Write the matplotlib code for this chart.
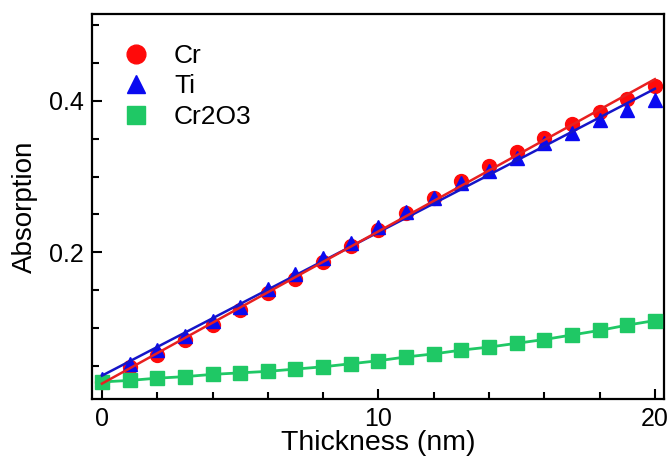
import matplotlib

matplotlib.use("Agg")
import matplotlib.pyplot as plt
import numpy as np
from matplotlib.ticker import MultipleLocator

plt.rcParams["font.family"] = ["Liberation Sans", "DejaVu Sans"]

# Data
thickness = np.arange(0, 21)
absorption_cr = [0.0286, 0.0485, 0.064, 0.084, 0.104, 0.124, 0.146, 0.165, 0.187, 0.208,
                 0.230, 0.2515, 0.2715, 0.2935, 0.3135, 0.3325, 0.351, 0.370, 0.3855,
                 0.403, 0.4195]
absorption_ti = [0.033, 0.053, 0.0705, 0.089, 0.110, 0.128, 0.151, 0.172, 0.192, 0.2127,
                 0.233, 0.2538, 0.2715, 0.291, 0.308, 0.325, 0.344, 0.357, 0.3745,
                 0.3877, 0.401]
absorption_cr2o3 = [0.029, 0.031, 0.034, 0.036, 0.039, 0.041, 0.043, 0.046, 0.049, 0.053,
                    0.057, 0.062, 0.066, 0.071, 0.075, 0.080, 0.085, 0.091, 0.097,
                    0.104, 0.110]

COLORS = {"Cr": "#ff0a0a", "Ti": "#0a0af0", "Cr2O3": "#1fc865"}

fig = plt.figure(figsize=(6.71, 4.65), dpi=100)
ax = fig.add_axes([92 / 671, 1 - 399 / 465, 572 / 671, 385 / 465])

# Straight fit lines for the metal films
fit_x = np.array([0, 20])
slope_ti, icpt_ti = np.polyfit(thickness, absorption_ti, 1)
slope_cr, icpt_cr = np.polyfit(thickness, absorption_cr, 1)

ax.plot(thickness, absorption_cr, "o", color=COLORS["Cr"], markersize=10, label="Cr", zorder=2)
ax.plot(thickness, absorption_ti, "^", color=COLORS["Ti"], markersize=10, label="Ti", zorder=3)
ax.plot(thickness, absorption_cr2o3, "s", color=COLORS["Cr2O3"], markersize=10,
        label="Cr2O3", zorder=3)
ax.plot(thickness, absorption_cr2o3, "-", color=COLORS["Cr2O3"], linewidth=2, zorder=2)
ax.plot(fit_x, slope_ti * fit_x + icpt_ti, "-", color="#1515c8", linewidth=1.8, zorder=4)
ax.plot(fit_x, slope_cr * fit_x + icpt_cr, "-", color="#e82020", linewidth=1.8, zorder=4)

ax.set_xlim(-0.36, 20.33)
ax.set_ylim(0.0065, 0.5145)
ax.xaxis.set_major_locator(MultipleLocator(10))
ax.xaxis.set_minor_locator(MultipleLocator(2))
ax.yaxis.set_minor_locator(MultipleLocator(0.05))
ax.set_yticks([0.2, 0.4])
ax.set_yticklabels(["0.2", "0.4"])

ax.tick_params(which="both", direction="in", width=1.5, labelsize=18, pad=6)
ax.tick_params(which="major", length=7)
ax.tick_params(which="minor", length=5)
for spine in ax.spines.values():
    spine.set_linewidth(1.6)

ax.set_xlabel("Thickness (nm)", fontsize=20.5, labelpad=-1)
ax.set_ylabel("Absorption", fontsize=20, labelpad=8)

ax.legend(loc="upper left", bbox_to_anchor=(0.035, 0.95), frameon=False, fontsize=19,
          numpoints=1, markerscale=1.35, handlelength=1.0, handletextpad=0.95,
          labelspacing=0.25, borderaxespad=0)

fig.savefig("out.png", dpi=100)
